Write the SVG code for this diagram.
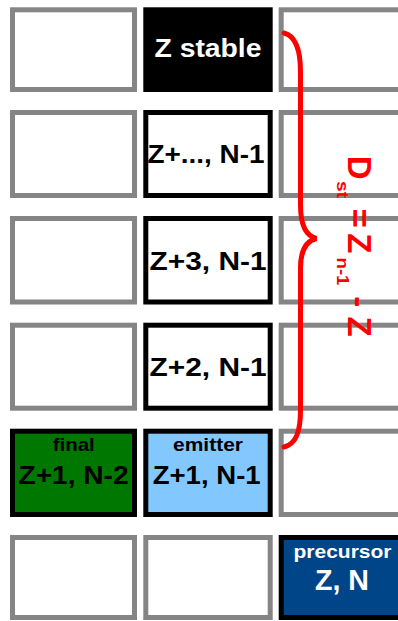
<svg xmlns="http://www.w3.org/2000/svg" width="398" height="621" viewBox="0 0 398 621">
<style>
.g{fill:#fff;stroke:#858585;stroke-width:5}
.k{stroke:#000;stroke-width:5}
.t{font-family:"Liberation Sans",Arial,sans-serif;font-weight:bold;text-anchor:middle}
.big{font-size:25px}
.sm{font-size:19px}
.r{font-family:"Liberation Sans",Arial,sans-serif;font-weight:bold;fill:#f00}
</style>
<rect width="398" height="621" fill="#fff"/>
<g id="r1c1"><rect class="g" x="12.5" y="9.8" width="122" height="79.7"/></g>
<g id="zstable"><rect class="k" x="145.8" y="9.8" width="124.4" height="79.7" fill="#000"/><text class="t big" x="208" y="57.3" fill="#fff" textLength="107" lengthAdjust="spacingAndGlyphs">Z stable</text></g>
<g id="r1c3"><rect class="g" x="281.2" y="9.8" width="125" height="79.7"/></g>

<g id="r2c1"><rect class="g" x="12.5" y="112.5" width="122" height="83"/></g>
<g id="zdots"><rect class="k" x="145.8" y="112.5" width="124.4" height="83" fill="#fff"/><text class="t big" x="206" y="163.3" textLength="117" lengthAdjust="spacingAndGlyphs">Z+..., N-1</text></g>
<g id="r2c3"><rect class="g" x="281.2" y="112.5" width="125" height="83"/></g>

<g id="r3c1"><rect class="g" x="12.5" y="218.5" width="122" height="83.5"/></g>
<g id="z3"><rect class="k" x="145.8" y="218.5" width="124.4" height="83.5" fill="#fff"/><text class="t big" x="208" y="269.5" textLength="117" lengthAdjust="spacingAndGlyphs">Z+3, N-1</text></g>
<g id="r3c3"><rect class="g" x="281.2" y="218.5" width="125" height="83.5"/></g>

<g id="r4c1"><rect class="g" x="12.5" y="325.2" width="122" height="83"/></g>
<g id="z2"><rect class="k" x="145.8" y="325.2" width="124.4" height="83" fill="#fff"/><text class="t big" x="208" y="376" textLength="117" lengthAdjust="spacingAndGlyphs">Z+2, N-1</text></g>
<g id="r4c3"><rect class="g" x="281.2" y="325.2" width="125" height="83"/></g>

<g id="final"><rect class="k" x="12.5" y="431.2" width="122" height="83.3" fill="#007700"/><text class="t sm" x="73.8" y="450.7" textLength="42" lengthAdjust="spacingAndGlyphs">final</text><text class="t big" x="73.5" y="484.3" textLength="110" lengthAdjust="spacingAndGlyphs">Z+1, N-2</text></g>
<g id="emitter"><rect class="k" x="145.8" y="431.2" width="124.4" height="83.3" fill="#82c8ff"/><text class="t sm" x="208" y="450.7" textLength="70" lengthAdjust="spacingAndGlyphs">emitter</text><text class="t big" x="206.7" y="484.3" textLength="108" lengthAdjust="spacingAndGlyphs">Z+1, N-1</text></g>
<g id="r5c3"><rect class="g" x="281.2" y="431.2" width="125" height="83.3"/></g>

<g id="r6c1"><rect class="g" x="12.5" y="537.5" width="122" height="80"/></g>
<g id="r6c2"><rect class="g" x="145.8" y="537.5" width="124.4" height="80"/></g>
<g id="precursor"><rect class="k" x="281.2" y="537.5" width="125" height="80" fill="#004587"/><text class="t sm" x="342.5" y="557.7" fill="#fff" textLength="98" lengthAdjust="spacingAndGlyphs">precursor</text><text class="t" x="342" y="590" fill="#fff" font-size="29" textLength="54" lengthAdjust="spacingAndGlyphs">Z, N</text></g>

<g id="connectors">
<path d="M284,33 C296,36 300.5,50 300.5,72 L300.5,205 C300.5,226 306,236 316.5,238.5 C306,241 300.5,250 300.5,268 L300.5,410 C300.5,432 296,444 284,447" fill="none" stroke="#f00" stroke-width="5" stroke-linecap="round"/>
</g>
<g id="formula" transform="translate(347.7,0) rotate(90)">
<text class="r" font-size="33"><tspan x="155.8" y="0">D</tspan><tspan x="181" y="11" font-size="17" textLength="17" lengthAdjust="spacingAndGlyphs">st</tspan><tspan x="208.4" y="0">=</tspan><tspan x="233.3" y="0">Z</tspan><tspan x="257.5" y="11" font-size="17" textLength="28" lengthAdjust="spacingAndGlyphs">n-1</tspan><tspan x="296.2" y="0">-</tspan><tspan x="316.6" y="0">Z</tspan></text>
</g>
</svg>
